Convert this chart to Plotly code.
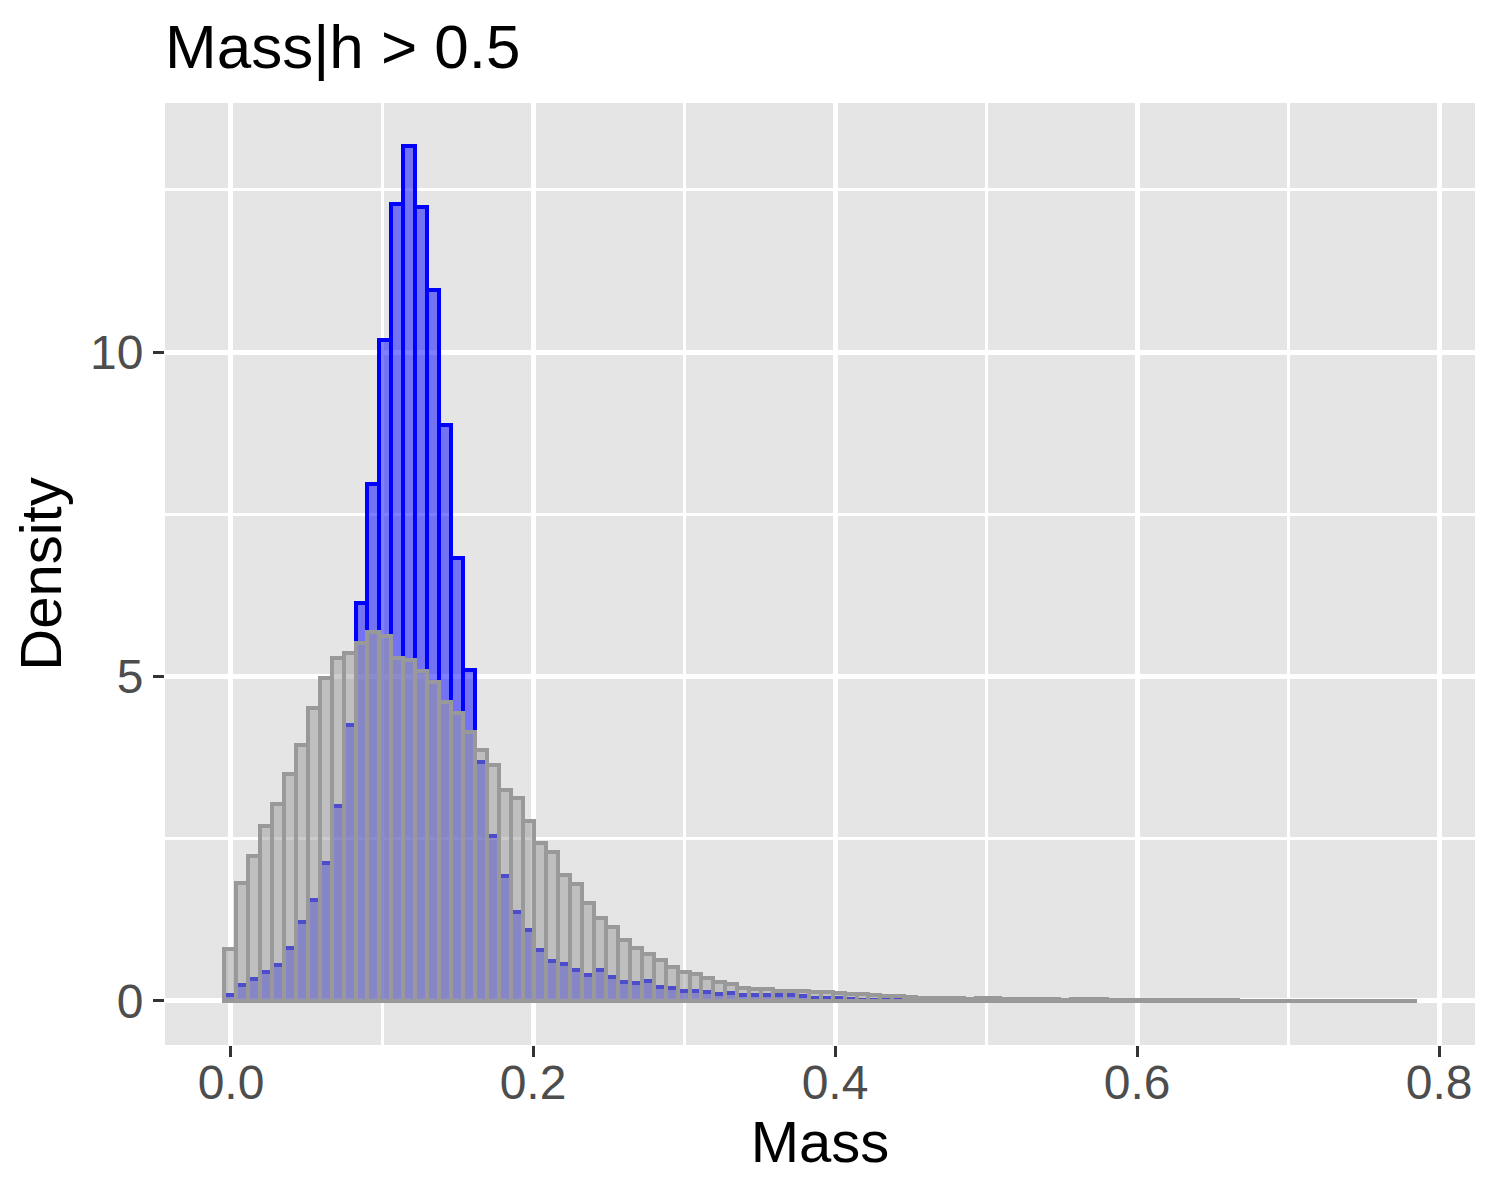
import plotly.graph_objects as go

# ---- data ----
bin_width = 0.0079
first_center = -0.0005

prior_density = [
    0.80, 1.82, 2.23, 2.69, 3.04, 3.49, 3.95, 4.51, 4.98, 5.28,
    5.36, 5.52, 5.69, 5.62, 5.29, 5.26, 5.09, 4.92, 4.61, 4.43,
    4.15, 3.87, 3.63, 3.25, 3.12, 2.78, 2.43, 2.29, 1.94, 1.80,
    1.51, 1.27, 1.14, 0.94, 0.81, 0.72, 0.63, 0.52, 0.45, 0.41,
    0.35, 0.29, 0.26, 0.20, 0.19, 0.18, 0.16, 0.15, 0.15, 0.13,
    0.13, 0.12, 0.10, 0.10, 0.09, 0.08, 0.07, 0.065, 0.05, 0.05,
    0.05, 0.05, 0.035, 0.045, 0.045, 0.035, 0.025, 0.025, 0.025, 0.025,
    0.02, 0.025, 0.025, 0.025, 0.015, 0.015, 0.01, 0.01, 0.01, 0.01,
    0.01, 0.01, 0.01, 0.01, 0.01, 0.005, 0.005, 0.005, 0.005, 0.005,
    0.005, 0.005, 0.005, 0.005, 0.005, 0.005, 0.005, 0.005, 0.005, 0.005,
]

posterior_density = [
    0.085, 0.25, 0.33, 0.45, 0.56, 0.81, 1.22, 1.56, 2.13, 3.01,
    4.26, 6.13, 7.97, 10.19, 12.29, 13.17, 12.24, 10.95, 8.88, 6.83,
    5.10, 3.68, 2.54, 1.93, 1.37, 1.10, 0.79, 0.61, 0.57, 0.48,
    0.40, 0.47, 0.37, 0.29, 0.28, 0.30, 0.21, 0.20, 0.15, 0.16,
    0.14, 0.10, 0.12, 0.09, 0.09, 0.09, 0.09, 0.09, 0.07, 0.045,
    0.05, 0.05, 0.03, 0.02, 0.02, 0.01, 0.01, 0.005, 0.005, 0.005,
    0.004, 0.004, 0.004, 0.003, 0.003, 0.003, 0.003, 0.002, 0.002, 0.002,
    0.002, 0.002, 0.002, 0.002, 0.002, 0.001, 0.001, 0.001, 0.001, 0.001,
    0.001, 0.001, 0.001, 0.001, 0.001, 0.001, 0.001, 0.001, 0.001, 0.001,
    0.001, 0.001, 0.001, 0.001, 0.001, 0.001, 0.001, 0.001, 0.001, 0.001,
]

x_tickvals = [0.0, 0.2, 0.4, 0.6, 0.8]
x_ticktext = ["0.0", "0.2", "0.4", "0.6", "0.8"]
y_tickvals = [0, 5, 10]
y_ticktext = ["0", "5", "10"]

title_text = "Mass|h > 0.5"
x_title = "Mass"
y_title = "Density"

# ---- figure ----
centers = [first_center + i * bin_width for i in range(len(prior_density))]

FONT = "Liberation Sans, Arial, Helvetica, sans-serif"
W, H = 1492, 1192  # page body adds an 8px offset

fig = go.Figure()
fig.add_trace(go.Bar(
    x=centers, y=posterior_density, width=bin_width,
    marker=dict(color="rgba(0,0,255,0.5)", line=dict(color="#0000FF", width=4)),
    showlegend=False, name="posterior",
))
fig.add_trace(go.Bar(
    x=centers, y=prior_density, width=bin_width,
    marker=dict(color="rgba(153,153,153,0.5)", line=dict(color="#999999", width=4)),
    showlegend=False, name="prior",
))

fig.update_layout(
    width=W, height=H,
    barmode="overlay", bargap=0,
    paper_bgcolor="white", plot_bgcolor="#E5E5E5",
    margin=dict(l=157, r=25, t=95, b=155, autoexpand=False),
    font=dict(family=FONT),
    title=dict(
        text=title_text, x=157 / W, xref="container", xanchor="left",
        y=1 - 38 / H, yref="container", yanchor="middle",
        font=dict(size=62, color="black", family=FONT),
    ),
)

fig.update_xaxes(
    range=[-0.0437, 0.8238],
    tickvals=x_tickvals, ticktext=x_ticktext,
    ticks="outside", ticklen=11, tickwidth=3, tickcolor="#333333",
    tickfont=dict(size=48, color="#4D4D4D", family=FONT),
    ticklabelstandoff=-16,
    showgrid=True, gridcolor="white", gridwidth=4.5,
    minor=dict(tickvals=[0.1, 0.3, 0.5, 0.7], showgrid=True, gridcolor="white", gridwidth=2.5),
    zeroline=False, showline=False, automargin=False,
    title=dict(text=x_title, font=dict(size=58, color="black", family=FONT), standoff=4),
)
fig.update_yaxes(
    range=[-0.68, 13.84],
    tickvals=y_tickvals, ticktext=y_ticktext,
    ticks="outside", ticklen=11, tickwidth=3, tickcolor="#333333",
    tickfont=dict(size=48, color="#4D4D4D", family=FONT),
    showgrid=True, gridcolor="white", gridwidth=4.5,
    minor=dict(tickvals=[2.5, 7.5, 12.5], showgrid=True, gridcolor="white", gridwidth=2.5),
    zeroline=False, showline=False, automargin=False,
    title=dict(text=y_title, font=dict(size=58, color="black", family=FONT), standoff=10),
)

fig.write_html("out.html")
